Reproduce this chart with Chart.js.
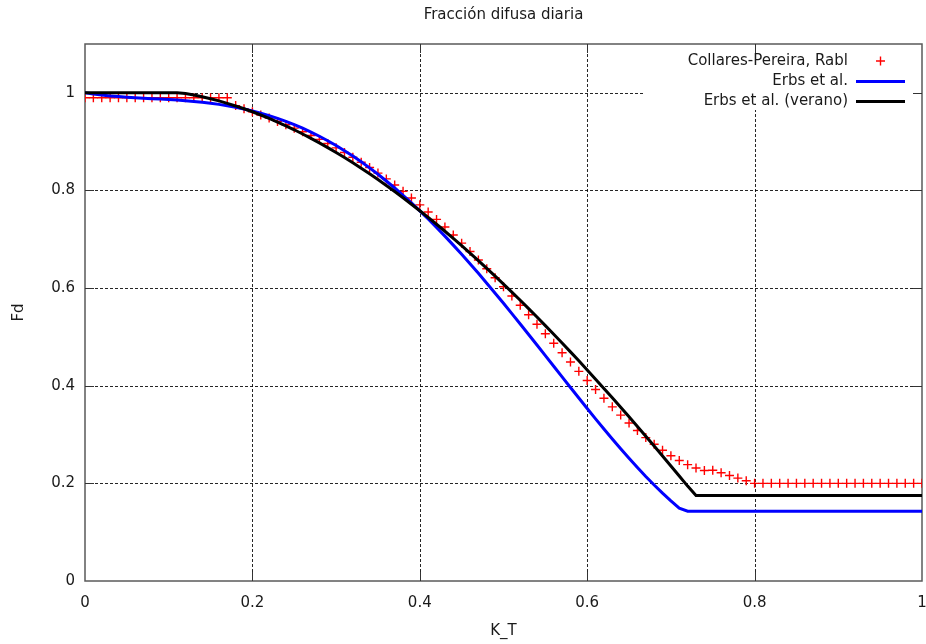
<!DOCTYPE html>
<html>
<head>
<meta charset="utf-8">
<script src="https://cdn.jsdelivr.net/npm/chart.js@4/dist/chart.umd.min.js"></script>
<style>
  html, body { margin: 0; padding: 0; background: #fff; }
  canvas { display: block; }
</style>
</head>
<body>
<canvas id="c" width="926" height="644"></canvas>
<script>
// Clearness index K_T sampled every 0.01
const kt = [
  0.00, 0.01, 0.02, 0.03, 0.04, 0.05, 0.06, 0.07, 0.08, 0.09,
  0.10, 0.11, 0.12, 0.13, 0.14, 0.15, 0.16, 0.17, 0.18, 0.19,
  0.20, 0.21, 0.22, 0.23, 0.24, 0.25, 0.26, 0.27, 0.28, 0.29,
  0.30, 0.31, 0.32, 0.33, 0.34, 0.35, 0.36, 0.37, 0.38, 0.39,
  0.40, 0.41, 0.42, 0.43, 0.44, 0.45, 0.46, 0.47, 0.48, 0.49,
  0.50, 0.51, 0.52, 0.53, 0.54, 0.55, 0.56, 0.57, 0.58, 0.59,
  0.60, 0.61, 0.62, 0.63, 0.64, 0.65, 0.66, 0.67, 0.68, 0.69,
  0.70, 0.71, 0.72, 0.73, 0.74, 0.75, 0.76, 0.77, 0.78, 0.79,
  0.80, 0.81, 0.82, 0.83, 0.84, 0.85, 0.86, 0.87, 0.88, 0.89,
  0.90, 0.91, 0.92, 0.93, 0.94, 0.95, 0.96, 0.97, 0.98, 0.99,
  1.00
];

// Daily diffuse fraction, Collares-Pereira & Rabl
const collaresRabl = [
  0.99, 0.99, 0.99, 0.99, 0.99, 0.99, 0.99, 0.99, 0.99, 0.99,
  0.99, 0.99, 0.99, 0.99, 0.99, 0.99, 0.99, 0.99, 0.9738, 0.9674,
  0.9610, 0.9546, 0.9482, 0.9415, 0.9347, 0.9276, 0.9203, 0.9126, 0.9046, 0.8961,
  0.8873, 0.8779, 0.8681, 0.8578, 0.8470, 0.8356, 0.8237, 0.8112, 0.7982, 0.7846,
  0.7705, 0.7559, 0.7407, 0.7250, 0.7088, 0.6921, 0.6750, 0.6574, 0.6395, 0.6212,
  0.6026, 0.5838, 0.5647, 0.5454, 0.5260, 0.5066, 0.4871, 0.4677, 0.4485, 0.4294,
  0.4106, 0.3922, 0.3742, 0.3567, 0.3398, 0.3236, 0.3082, 0.2937, 0.2802, 0.2679,
  0.2567, 0.2468, 0.2383, 0.2315, 0.2264, 0.2270, 0.2216, 0.2162, 0.2108, 0.2054,
  0.20, 0.20, 0.20, 0.20, 0.20, 0.20, 0.20, 0.20, 0.20, 0.20,
  0.20, 0.20, 0.20, 0.20, 0.20, 0.20, 0.20, 0.20, 0.20, 0.20,
  0.20
];

// Daily diffuse fraction, Erbs et al.
const erbs = [
  1.0000, 0.9975, 0.9954, 0.9937, 0.9923, 0.9911, 0.9900, 0.9890, 0.9881, 0.9872,
  0.9862, 0.9851, 0.9838, 0.9824, 0.9806, 0.9786, 0.9763, 0.9736, 0.9704, 0.9669,
  0.9629, 0.9583, 0.9533, 0.9477, 0.9416, 0.9349, 0.9275, 0.9196, 0.9110, 0.9018,
  0.8920, 0.8815, 0.8704, 0.8586, 0.8462, 0.8331, 0.8194, 0.8050, 0.7900, 0.7745,
  0.7583, 0.7415, 0.7242, 0.7064, 0.6880, 0.6692, 0.6499, 0.6302, 0.6101, 0.5896,
  0.5688, 0.5478, 0.5265, 0.5050, 0.4834, 0.4616, 0.4399, 0.4181, 0.3964, 0.3748,
  0.3534, 0.3322, 0.3114, 0.2909, 0.2708, 0.2513, 0.2324, 0.2141, 0.1966, 0.1799,
  0.1641, 0.1493, 0.143, 0.143, 0.143, 0.143, 0.143, 0.143, 0.143, 0.143,
  0.143, 0.143, 0.143, 0.143, 0.143, 0.143, 0.143, 0.143, 0.143, 0.143,
  0.143, 0.143, 0.143, 0.143, 0.143, 0.143, 0.143, 0.143, 0.143, 0.143,
  0.143
];

// Daily diffuse fraction, Erbs et al. (summer)
const erbsVerano = [
  1, 1, 1, 1, 1, 1, 1, 1, 1, 1,
  1, 1, 0.9986, 0.9955, 0.9919, 0.9878, 0.9834, 0.9784, 0.9731, 0.9673,
  0.9612, 0.9546, 0.9476, 0.9402, 0.9324, 0.9243, 0.9157, 0.9068, 0.8975, 0.8878,
  0.8778, 0.8674, 0.8566, 0.8455, 0.8341, 0.8223, 0.8102, 0.7977, 0.7849, 0.7718,
  0.7584, 0.7447, 0.7307, 0.7164, 0.7018, 0.6869, 0.6717, 0.6563, 0.6405, 0.6245,
  0.6083, 0.5918, 0.5750, 0.5580, 0.5407, 0.5232, 0.5055, 0.4875, 0.4694, 0.4510,
  0.4324, 0.4135, 0.3945, 0.3753, 0.3559, 0.3363, 0.3165, 0.2966, 0.2765, 0.2562,
  0.2357, 0.2151, 0.1944, 0.175, 0.175, 0.175, 0.175, 0.175, 0.175, 0.175,
  0.175, 0.175, 0.175, 0.175, 0.175, 0.175, 0.175, 0.175, 0.175, 0.175,
  0.175, 0.175, 0.175, 0.175, 0.175, 0.175, 0.175, 0.175, 0.175, 0.175,
  0.175
];

const seriesNames = ['Collares-Pereira, Rabl', 'Erbs et al.', 'Erbs et al. (verano)'];
const xTicks = [0, 0.2, 0.4, 0.6, 0.8, 1];
const xTickLabels = ['0', '0.2', '0.4', '0.6', '0.8', '1'];
const yTicks = [0, 0.2, 0.4, 0.6, 0.8, 1];
const yTickLabels = ['0', '0.2', '0.4', '0.6', '0.8', '1'];
const titleText = 'Fracción difusa diaria';
const xTitle = 'K_T';
const yTitle = 'Fd';

const FONT = '"DejaVu Sans", Verdana, sans-serif';
const TEXT = '#1a1a1a';

const toPoints = ys => kt.map((x, i) => ({ x: x, y: ys[i] }));

// Gnuplot-like frame: dashed grid, opaque key box, border and inward tics
const framePlugin = {
  id: 'frame',
  beforeDatasetsDraw(chart) {
    const { ctx, chartArea: a, scales: { x, y } } = chart;
    ctx.save();
    // grid
    ctx.strokeStyle = 'rgba(0,0,0,0.85)';
    ctx.lineWidth = 1;
    ctx.setLineDash([3, 2]);
    xTicks.forEach(v => {
      if (v <= x.min || v >= x.max) return;
      const px = Math.round(x.getPixelForValue(v)) + 0.5;
      ctx.beginPath(); ctx.moveTo(px, a.top); ctx.lineTo(px, a.bottom); ctx.stroke();
    });
    yTicks.forEach(v => {
      if (v <= y.min || v >= y.max) return;
      const py = Math.round(y.getPixelForValue(v)) + 0.5;
      ctx.beginPath(); ctx.moveTo(a.left, py); ctx.lineTo(a.right, py); ctx.stroke();
    });
    ctx.setLineDash([]);
    // key box (white, covers grid)
    ctx.fillStyle = '#fff';
    ctx.fillRect(a.right - 279, a.top, 279, 66);
    // border
    ctx.strokeStyle = '#5a5a5a';
    ctx.lineWidth = 1.5;
    ctx.strokeRect(a.left, a.top, a.right - a.left, a.bottom - a.top);
    // inward tics on all four sides
    ctx.strokeStyle = '#333';
    ctx.lineWidth = 1;
    const tl = 9;
    xTicks.forEach(v => {
      if (v <= x.min || v >= x.max) return;
      const px = Math.round(x.getPixelForValue(v)) + 0.5;
      ctx.beginPath();
      ctx.moveTo(px, a.bottom); ctx.lineTo(px, a.bottom - tl);
      ctx.moveTo(px, a.top); ctx.lineTo(px, a.top + tl);
      ctx.stroke();
    });
    yTicks.forEach(v => {
      if (v <= y.min || v >= y.max) return;
      const py = Math.round(y.getPixelForValue(v)) + 0.5;
      ctx.beginPath();
      ctx.moveTo(a.left, py); ctx.lineTo(a.left + tl, py);
      ctx.moveTo(a.right, py); ctx.lineTo(a.right - tl, py);
      ctx.stroke();
    });
    ctx.restore();
  },
  afterDraw(chart) {
    const { ctx, chartArea: a } = chart;
    ctx.save();
    ctx.fillStyle = TEXT;
    ctx.font = '15px ' + FONT;
    // title centred over the plot
    ctx.textAlign = 'center';
    ctx.textBaseline = 'middle';
    ctx.fillText(titleText, (a.left + a.right) / 2, 15);
    // axis titles
    ctx.fillText(xTitle, (a.left + a.right) / 2, 631);
    ctx.save();
    ctx.translate(19, (a.top + a.bottom) / 2);
    ctx.rotate(-Math.PI / 2);
    ctx.fillText(yTitle, 0, 0);
    ctx.restore();
    // key
    const textRight = a.right - 74;
    const s0 = a.right - 66, s1 = a.right - 17;
    const rows = [a.top + 17, a.top + 37, a.top + 57];
    chart.data.datasets.forEach((ds, i) => {
      ctx.fillStyle = TEXT;
      ctx.textAlign = 'right';
      ctx.fillText(seriesNames[i], textRight, rows[i]);
      if (ds.showLine) {
        ctx.strokeStyle = ds.borderColor;
        ctx.lineWidth = ds.borderWidth;
        ctx.beginPath(); ctx.moveTo(s0, rows[i] + 0.5); ctx.lineTo(s1, rows[i] + 0.5); ctx.stroke();
      } else {
        const cx = (s0 + s1) / 2, r = ds.pointRadius;
        ctx.strokeStyle = ds.borderColor;
        ctx.lineWidth = ds.pointBorderWidth;
        ctx.beginPath();
        ctx.moveTo(cx - r, rows[i]); ctx.lineTo(cx + r, rows[i]);
        ctx.moveTo(cx, rows[i] - r); ctx.lineTo(cx, rows[i] + r);
        ctx.stroke();
      }
    });
    ctx.restore();
  }
};

new Chart(document.getElementById('c'), {
  type: 'scatter',
  data: {
    datasets: [
      {
        label: seriesNames[0],
        data: toPoints(collaresRabl),
        showLine: false,
        pointStyle: 'cross',
        pointRadius: 4.5,
        pointHoverRadius: 4.5,
        pointBorderWidth: 1.4,
        borderColor: '#ff0000',
        backgroundColor: '#ff0000',
        order: 3
      },
      {
        label: seriesNames[1],
        data: toPoints(erbs),
        showLine: true,
        borderColor: '#0000ff',
        borderWidth: 3,
        pointRadius: 0,
        pointHoverRadius: 0,
        tension: 0,
        order: 2
      },
      {
        label: seriesNames[2],
        data: toPoints(erbsVerano),
        showLine: true,
        borderColor: '#000000',
        borderWidth: 3,
        pointRadius: 0,
        pointHoverRadius: 0,
        tension: 0,
        order: 1
      }
    ]
  },
  options: {
    responsive: false,
    animation: false,
    devicePixelRatio: 1,
    layout: { autoPadding: false, padding: { top: 44, right: 4, left: 0, bottom: 0 } },
    plugins: {
      legend: { display: false },
      title: { display: false },
      tooltip: { enabled: false }
    },
    scales: {
      x: {
        type: 'linear',
        min: 0,
        max: 1,
        afterBuildTicks: s => { s.ticks = xTicks.map(v => ({ value: v })); },
        afterFit: s => { s.height = 63; s.paddingLeft = 0; s.paddingRight = 0; },
        grid: { display: false, drawTicks: false },
        border: { display: false },
        ticks: {
          padding: 13,
          color: TEXT,
          font: { family: FONT, size: 15 },
          maxRotation: 0,
          callback: (v, i) => xTickLabels[i]
        }
      },
      y: {
        type: 'linear',
        min: 0,
        max: 1.1,
        afterBuildTicks: s => { s.ticks = yTicks.map(v => ({ value: v })); },
        afterFit: s => { s.width = 85; s.paddingTop = 0; s.paddingBottom = 0; },
        grid: { display: false, drawTicks: false },
        border: { display: false },
        ticks: {
          padding: 10,
          color: TEXT,
          font: { family: FONT, size: 15 },
          callback: (v, i) => yTickLabels[i]
        }
      }
    }
  },
  plugins: [framePlugin]
});
</script>
</body>
</html>
